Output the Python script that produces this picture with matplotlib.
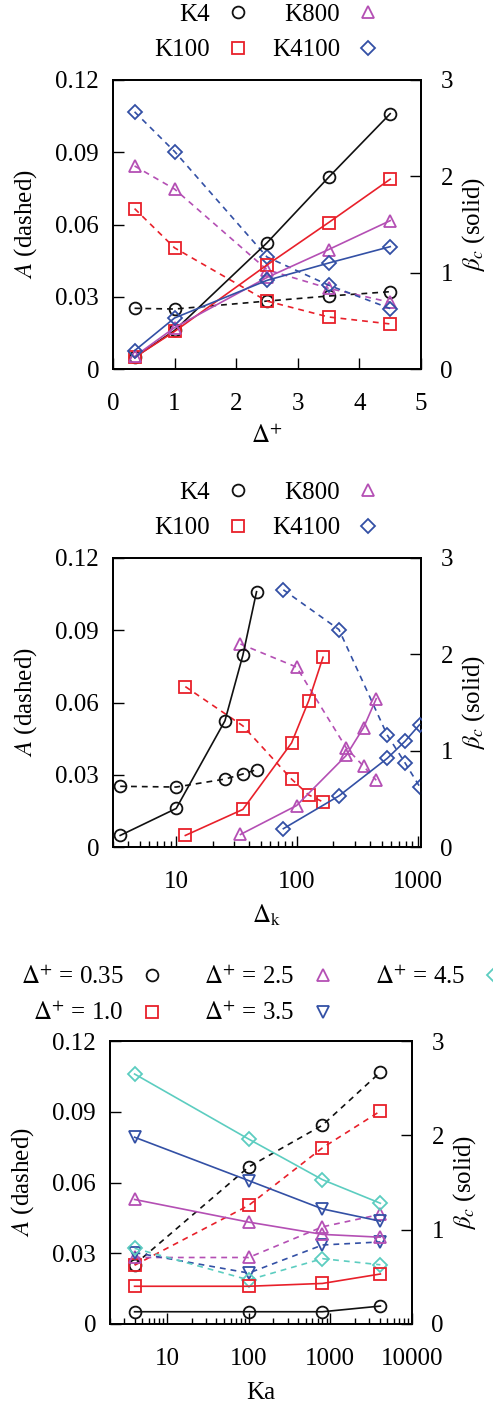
import matplotlib
matplotlib.use("Agg")
import matplotlib.pyplot as plt
from matplotlib.ticker import FixedLocator, LogLocator, NullFormatter, FixedFormatter

plt.rcParams['font.family'] = ['Liberation Serif', 'DejaVu Serif']
plt.rcParams['mathtext.fontset'] = 'stix'
plt.rcParams['font.size'] = 18

# ---------------- data ----------------
# Panel 1 / 2 : series K4, K100, K800, K4100 vs Delta+ (and Delta_k)
delta_plus = [0.35, 1.0, 2.5, 3.5, 4.5]
series_names = ['K4', 'K100', 'K800', 'K4100']

dk_K4 = [3.44, 10.0, 25.3, 35.6, 46.2]
dk_K100 = [11.9, 35.6, 90.0, 125.0, 164.0]
dk_K800 = [34.0, 99.0, 255.0, 355.0, 452.0]
dk_K4100 = [77.0, 222.0, 557.0, 785.0, 1032.0]

A_K4 = [0.0252, 0.0249, 0.0282, 0.0303, 0.0321]
A_K100 = [0.0666, 0.0503, 0.0282, 0.0216, 0.0187]
A_K800 = [0.0843, 0.0747, 0.0412, 0.0335, 0.0277]
A_K4100 = [0.1068, 0.0903, 0.0465, 0.0348, 0.0251]

beta_K4 = [0.12, 0.40, 1.31, 1.99, 2.65]
beta_K100 = [0.12, 0.39, 1.08, 1.52, 1.97]
beta_K800 = [0.13, 0.43, 0.95, 1.24, 1.54]
beta_K4100 = [0.19, 0.53, 0.92, 1.10, 1.27]

# Panel 3 : series by Delta+ vs Ka
ka = [4, 100, 800, 4100]
dp_labels = [r'$\Delta^{+}$ = 0.35', r'$\Delta^{+}$ = 1.0', r'$\Delta^{+}$ = 2.5',
             r'$\Delta^{+}$ = 3.5', r'$\Delta^{+}$ = 4.5']
A_d035 = [0.0252, 0.0666, 0.0843, 0.1068]
A_d10 = [0.0249, 0.0503, 0.0747, 0.0903]
A_d25 = [0.0282, 0.0282, 0.0412, 0.0465]
A_d35 = [0.0303, 0.0216, 0.0335, 0.0348]
A_d45 = [0.0321, 0.0187, 0.0277, 0.0251]
beta_d035 = [0.13, 0.13, 0.13, 0.19]
beta_d10 = [0.40, 0.40, 0.43, 0.53]
beta_d25 = [1.32, 1.08, 0.95, 0.92]
beta_d35 = [1.98, 1.52, 1.22, 1.09]
beta_d45 = [2.65, 1.96, 1.53, 1.28]

# ---------------- style ----------------
c_black = '#111111'
c_red = '#e8202a'
c_mag = '#b44fb4'
c_blue = '#3350a5'
c_cyan = '#5ccdc0'

K_styles = [(c_black, 'o'), (c_red, 's'), (c_mag, '^'), (c_blue, 'D')]
D_styles = [(c_black, 'o'), (c_red, 's'), (c_mag, '^'), (c_blue, 'v'), (c_cyan, 'D')]
msize = {'o': 8.5, 's': 8.5, '^': 9, 'v': 9, 'D': 7}
dash = (0, (3.5, 3))

W, H = 493, 1406
fig = plt.figure(figsize=(W / 100, H / 100), dpi=100)


def frac(l, t, r, b):
    return [l / W, 1 - b / H, (r - l) / W, (b - t) / H]


def setup(ax, ax2):
    ax.set_ylim(0, 0.12)
    ax2.set_ylim(0, 3)
    ax.yaxis.set_major_locator(FixedLocator([0, 0.03, 0.06, 0.09, 0.12]))
    ax.yaxis.set_major_formatter(FixedFormatter(['0', '0.03', '0.06', '0.09', '0.12']))
    ax2.yaxis.set_major_locator(FixedLocator([0, 1, 2, 3]))
    ax.tick_params(axis='y', direction='in', length=8, width=1, left=True, right=False, pad=10)
    ax.tick_params(axis='x', which='major', direction='in', length=8, width=1, top=False, pad=17)
    ax.tick_params(axis='x', which='minor', direction='in', length=4, width=1, top=False)
    ax2.tick_params(axis='y', direction='in', length=8, width=1, left=False, right=True, pad=14)
    for sp in ax.spines.values():
        sp.set_linewidth(1.3)
    for sp in ax2.spines.values():
        sp.set_linewidth(1.3)
    ax.set_ylabel(r'$A$ (dashed)', labelpad=12)
    ax2.set_ylabel(r'$\beta_c$ (solid)', labelpad=5)


def plot_pair(ax, ax2, x, A, beta, color, m, label):
    ax.plot(x, A, linestyle=dash, color=color, lw=1.2, marker=m, ms=msize[m],
            mfc='none', mec=color, mew=1.3, zorder=3)
    ax2.plot(x, beta, linestyle='-', color=color, lw=1.2, marker=m, ms=msize[m],
             mfc='none', mec=color, mew=1.3, zorder=3)
    h, = ax.plot([], [], linestyle='none', marker=m, ms=msize[m], mfc='none',
                 mec=color, mew=1.3, label=label)
    return h


A_K = [A_K4, A_K100, A_K800, A_K4100]
beta_K = [beta_K4, beta_K100, beta_K800, beta_K4100]
dk_K = [dk_K4, dk_K100, dk_K800, dk_K4100]

leg_kw = dict(frameon=False, markerfirst=False, handlelength=1.0, handletextpad=0.62,
              labelspacing=0.52, fontsize=18, borderpad=0, borderaxespad=0)

# ---------------- panel 1 ----------------
ax1 = fig.add_axes(frac(113, 80, 421, 369))
ax1b = ax1.twinx()
handles = []
for (col, m), name, A, b in zip(K_styles, series_names, A_K, beta_K):
    handles.append(plot_pair(ax1, ax1b, delta_plus, A, b, col, m, name))
ax1.set_xlim(0, 5)
ax1.set_xticks([0, 1, 2, 3, 4, 5])
setup(ax1, ax1b)
ax1.set_xlabel(r'$\Delta^{+}$', labelpad=7)
fig.legend(handles=handles, ncol=2, loc='center', bbox_to_anchor=(267.5 / W, 1 - 32.5 / H),
           columnspacing=0.86, **leg_kw)

# ---------------- panel 2 ----------------
ax2 = fig.add_axes(frac(113, 558, 421, 847))
ax2b = ax2.twinx()
handles = []
for (col, m), name, A, b, x in zip(K_styles, series_names, A_K, beta_K, dk_K):
    handles.append(plot_pair(ax2, ax2b, x, A, b, col, m, name))
ax2.set_xscale('log')
ax2.set_xlim(3.0, 1060)
ax2.xaxis.set_major_locator(FixedLocator([10, 100, 1000]))
ax2.xaxis.set_major_formatter(FixedFormatter(['10', '100', '1000']))
ax2.xaxis.set_minor_locator(LogLocator(base=10, subs=range(2, 10)))
ax2.xaxis.set_minor_formatter(NullFormatter())
setup(ax2, ax2b)
ax2.set_xlabel(r'$\Delta_{\mathrm{k}}$', labelpad=7)
fig.legend(handles=handles, ncol=2, loc='center', bbox_to_anchor=(267.5 / W, 1 - 510.5 / H),
           columnspacing=0.86, **leg_kw)

# ---------------- panel 3 ----------------
A_D = [A_d035, A_d10, A_d25, A_d35, A_d45]
beta_D = [beta_d035, beta_d10, beta_d25, beta_d35, beta_d45]
ax3 = fig.add_axes(frac(110, 1041, 412, 1324))
ax3b = ax3.twinx()
handles = []
for (col, m), lab, A, b in zip(D_styles, dp_labels, A_D, beta_D):
    handles.append(plot_pair(ax3, ax3b, ka, A, b, col, m, lab))
ax3.set_xscale('log')
ax3.set_xlim(2.0, 10000)
ax3.xaxis.set_major_locator(FixedLocator([10, 100, 1000, 10000]))
ax3.xaxis.set_major_formatter(FixedFormatter(['10', '100', '1000', '10000']))
ax3.xaxis.set_minor_locator(LogLocator(base=10, subs=range(2, 10)))
ax3.xaxis.set_minor_formatter(NullFormatter())
setup(ax3, ax3b)
ax3.set_xlabel('Ka', labelpad=9)
fig.legend(handles=handles, ncol=3, loc='center', bbox_to_anchor=(263.5 / W, 1 - 995.5 / H),
           columnspacing=1.6, **leg_kw)

fig.savefig('out.png', dpi=100)
